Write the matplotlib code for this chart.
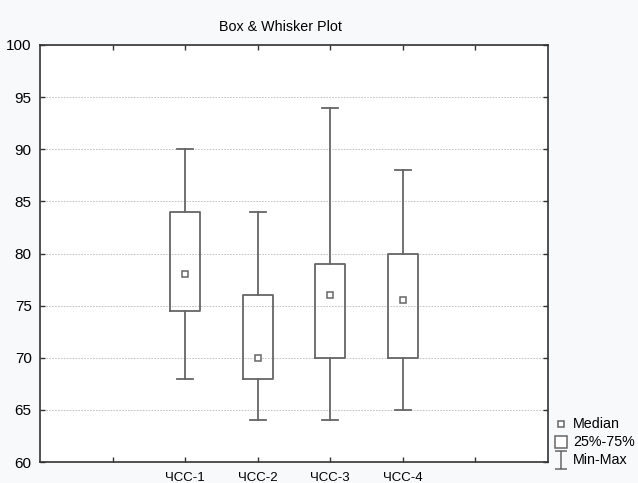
import matplotlib.pyplot as plt
from matplotlib.lines import Line2D
from matplotlib.path import Path

plt.rcParams['font.family'] = ['Liberation Sans', 'DejaVu Sans']

# data
labels = ['ЧСС-1', 'ЧСС-2', 'ЧСС-3', 'ЧСС-4']
mins = [68, 64, 64, 65]
q1s = [74.5, 68, 70, 70]
medians = [78, 70, 76, 75.5]
q3s = [84, 76, 79, 80]
maxs = [90, 84, 94, 88]
legend_labels = ['Median', '25%-75%', 'Min-Max']

positions = [1, 2, 3, 4]
box_col = '#666666'
spine_col = '#333333'

fig = plt.figure(figsize=(6.38, 4.83), dpi=100)
fig.patch.set_facecolor('#f8f9fb')
ax = fig.add_axes([40 / 638, 21 / 483, 508 / 638, 417 / 483])
ax.set_facecolor('white')

stats = []
for lab, lo, a, m, b, hi in zip(labels, mins, q1s, medians, q3s, maxs):
    stats.append({'label': lab, 'whislo': lo, 'q1': a, 'med': m,
                  'q3': b, 'whishi': hi, 'fliers': []})

ax.bxp(stats, positions=positions, widths=0.41, showfliers=False,
       boxprops=dict(color=box_col, linewidth=1.3),
       whiskerprops=dict(color=box_col, linewidth=1.3),
       capprops=dict(color=box_col, linewidth=1.3),
       medianprops=dict(linewidth=0), capwidths=0.22)
ax.plot(positions, medians, 's', ms=5, mfc='white', mec=box_col,
        mew=1.1, ls='none', zorder=5)

ax.set_xlim(-1, 6)
ax.set_ylim(60, 100)
ax.set_yticks(range(60, 101, 5))
ax.set_xticks(range(0, 6))
ax.set_xticklabels([''] + labels + [''])
ax.tick_params(direction='in', top=True, right=True, length=3.5,
               width=1, color=spine_col, pad=6)
ax.tick_params(axis='y', labelsize=11)
ax.tick_params(axis='x', labelsize=9.5, pad=7)
ax.grid(axis='y', color='#bbbbbb', linestyle=(0, (2, 1.5)), linewidth=0.6)
ax.set_axisbelow(True)
for s in ax.spines.values():
    s.set_color(spine_col)
    s.set_linewidth(1.2)

fig.text(280 / 638, 1 - 27 / 483, 'Box & Whisker Plot', ha='center',
         va='center', fontsize=10.3)

# legend, drawn by hand in figure pixels like the Statistica key
minmax = Path([(-0.33, 0.5), (0.33, 0.5), (0, 0.5), (0, -0.5), (-0.33, -0.5), (0.33, -0.5)],
              [Path.MOVETO, Path.LINETO, Path.MOVETO, Path.LINETO, Path.MOVETO, Path.LINETO])
keys = [('s', 5), ('s', 8.6), (minmax, 12.5)]
rows_y = [424, 442, 460]
for (mk, ms), lab, yy in zip(keys, legend_labels, rows_y):
    fy = 1 - yy / 483
    fig.add_artist(Line2D([561 / 638], [fy], marker=mk, ms=ms, mfc='white',
                          mec=box_col, mew=1.1, ls='none',
                          transform=fig.transFigure))
    fig.text(573 / 638, fy, lab, ha='left', va='center', fontsize=10.3)

fig.savefig('out.png', dpi=100, facecolor=fig.get_facecolor())
